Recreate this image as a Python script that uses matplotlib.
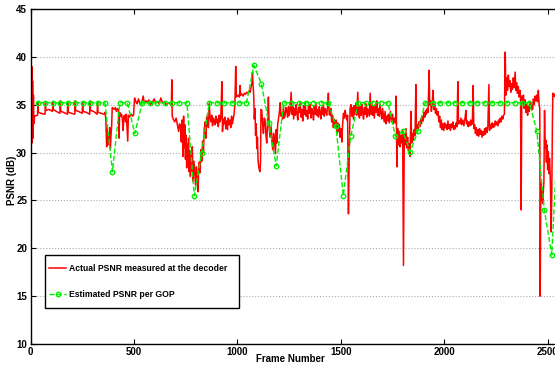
import numpy as np
import matplotlib
matplotlib.use("Agg")
import matplotlib.pyplot as plt
from matplotlib.patches import Rectangle

plt.rcParams['font.family'] = ['Liberation Sans', 'DejaVu Sans']

# actual PSNR at decoder, (frame, dB)
actual_trace = [
    (0, 45.0), (2, 38.0), (4, 32.5), (6, 39.0), (8, 31.0), (10, 37.5), (12, 31.5), (14, 36.0),
    (16, 33.0), (20, 33.8), (34, 33.9), (36, 35.3), (38, 34.2), (50, 34.1), (70, 34.0),
    (72, 35.2), (74, 34.4), (90, 34.5), (106, 34.3), (108, 35.3), (110, 34.5), (125, 34.3),
    (142, 34.1), (144, 35.4), (146, 34.3), (160, 34.2), (178, 34.0), (180, 35.3), (182, 34.2),
    (198, 34.1), (214, 34.0), (216, 35.4), (218, 34.4), (232, 34.3), (250, 34.1), (252, 35.3),
    (254, 34.3), (270, 34.2), (286, 34.0), (288, 35.4), (290, 34.4), (305, 34.3), (322, 34.0),
    (324, 35.3), (326, 34.2), (340, 34.1), (356, 34.0), (360, 34.2), (364, 33.5), (368, 30.6),
    (371, 32.5), (374, 30.8), (377, 32.0), (380, 31.2), (383, 32.6), (386, 30.4), (389, 31.8),
    (392, 32.7), (395, 34.7), (400, 34.6), (405, 34.5), (410, 34.7), (415, 34.3), (420, 34.6),
    (425, 34.5), (428, 31.5), (431, 34.2), (436, 33.8), (440, 34.0), (444, 33.5), (448, 32.3),
    (451, 33.8), (455, 33.9), (459, 33.2), (463, 34.0), (470, 31.2), (473, 33.9), (478, 33.7),
    (483, 33.9), (488, 34.0), (493, 33.8), (498, 33.9), (503, 35.7), (508, 35.4), (512, 35.2),
    (515, 35.1), (522, 35.6), (530, 35.0), (538, 35.3), (545, 35.9), (550, 35.1), (558, 35.4),
    (565, 35.2), (572, 35.5), (580, 35.0), (590, 35.3), (598, 35.6), (605, 35.2), (615, 35.3),
    (622, 35.1), (630, 35.7), (638, 35.2), (648, 35.3), (655, 35.0), (665, 35.2), (675, 35.1),
    (681, 34.9), (683, 37.6), (685, 33.8), (690, 33.5), (697, 33.2), (704, 33.6), (710, 32.9),
    (716, 32.2), (720, 33.0), (725, 32.8), (729, 31.1), (733, 33.4), (737, 29.6), (740, 33.8),
    (743, 30.5), (746, 32.9), (749, 29.3), (752, 31.8), (755, 28.4), (758, 30.9), (761, 29.5),
    (764, 31.5), (767, 28.0), (770, 30.2), (773, 27.5), (776, 29.4), (779, 28.1), (782, 30.6),
    (786, 27.0), (790, 29.1), (794, 27.8), (798, 26.6), (802, 28.5), (806, 27.4), (810, 25.9),
    (813, 28.2), (816, 29.0), (820, 27.9), (824, 30.3), (828, 29.1), (832, 31.2), (836, 30.0),
    (840, 32.5), (844, 33.2), (848, 31.5), (852, 33.8), (856, 33.4), (860, 32.6), (864, 35.1),
    (868, 33.7), (872, 33.2), (876, 33.9), (880, 32.8), (884, 33.6), (888, 33.3), (892, 32.9),
    (896, 33.8), (900, 33.1), (904, 33.5), (908, 32.7), (912, 33.9), (916, 33.2), (920, 33.6),
    (925, 37.4), (928, 32.2), (932, 33.5), (936, 33.0), (940, 33.7), (944, 32.5), (948, 33.3),
    (952, 32.4), (956, 33.6), (960, 32.9), (964, 33.4), (968, 32.6), (972, 33.8), (976, 33.0),
    (980, 33.5), (984, 34.0), (988, 35.0), (992, 39.0), (995, 35.8), (1000, 35.9), (1005, 36.0),
    (1010, 35.8), (1013, 37.0), (1016, 36.0), (1022, 36.1), (1028, 35.9), (1034, 36.2),
    (1040, 36.1), (1046, 36.3), (1052, 36.2), (1058, 36.5), (1062, 36.3), (1066, 36.8),
    (1070, 37.2), (1073, 38.4), (1076, 37.0), (1079, 36.0), (1082, 33.5), (1085, 34.6),
    (1088, 31.8), (1091, 33.0), (1094, 30.4), (1097, 31.6), (1100, 29.2), (1103, 28.6),
    (1106, 28.2), (1109, 28.0), (1112, 29.0), (1114, 34.5), (1118, 34.4), (1122, 33.0),
    (1126, 32.0), (1130, 33.6), (1134, 33.4), (1138, 31.8), (1142, 31.0), (1146, 33.2),
    (1150, 35.8), (1154, 32.5), (1158, 31.6), (1163, 32.7), (1167, 31.2), (1171, 30.3),
    (1175, 32.0), (1178, 31.6), (1184, 29.9), (1188, 32.4), (1191, 31.0), (1195, 33.0),
    (1198, 33.4), (1203, 34.2), (1207, 35.2), (1211, 33.8), (1215, 34.1), (1219, 33.5),
    (1223, 34.8), (1227, 33.6), (1231, 33.9), (1235, 34.7), (1239, 34.4), (1243, 33.7),
    (1247, 34.8), (1251, 33.9), (1255, 34.3), (1260, 36.3), (1264, 34.0), (1268, 34.8),
    (1272, 33.5), (1276, 34.6), (1280, 33.9), (1284, 35.0), (1288, 34.1), (1292, 33.4),
    (1296, 34.7), (1300, 34.2), (1304, 35.1), (1308, 33.7), (1312, 34.5), (1316, 33.3),
    (1320, 34.9), (1324, 34.0), (1328, 35.2), (1332, 33.8), (1336, 34.4), (1340, 33.5),
    (1344, 34.8), (1348, 34.1), (1352, 35.0), (1356, 33.6), (1360, 34.6), (1364, 34.2),
    (1368, 33.4), (1372, 34.9), (1376, 34.0), (1380, 35.1), (1384, 33.9), (1388, 34.5),
    (1392, 33.7), (1396, 34.8), (1400, 34.2), (1404, 33.5), (1408, 34.7), (1412, 34.0),
    (1416, 35.0), (1420, 33.8), (1424, 34.6), (1428, 34.3), (1432, 33.9), (1436, 34.8),
    (1440, 36.2), (1444, 34.0), (1448, 33.9), (1452, 34.6), (1456, 33.2), (1460, 33.9),
    (1464, 32.6), (1468, 33.5), (1473, 32.7), (1477, 33.4), (1481, 32.0), (1485, 33.1),
    (1489, 32.2), (1493, 32.9), (1497, 31.6), (1501, 32.5), (1505, 31.1), (1509, 33.0),
    (1513, 34.1), (1517, 33.6), (1521, 34.4), (1525, 33.8), (1529, 33.4), (1533, 33.9),
    (1537, 23.6), (1541, 30.0), (1545, 34.6), (1549, 35.0), (1553, 33.8), (1557, 34.7),
    (1561, 33.5), (1565, 34.9), (1569, 34.0), (1573, 35.2), (1577, 33.9), (1582, 36.3),
    (1586, 34.2), (1590, 33.6), (1594, 34.8), (1598, 33.9), (1602, 35.0), (1606, 34.1),
    (1610, 33.5), (1614, 34.7), (1618, 34.0), (1622, 35.1), (1626, 33.7), (1630, 34.6),
    (1634, 34.2), (1638, 33.8), (1642, 36.2), (1646, 34.0), (1650, 35.2), (1654, 33.9),
    (1658, 34.8), (1662, 33.6), (1666, 35.0), (1670, 34.2), (1674, 35.4), (1678, 33.9),
    (1682, 34.6), (1686, 33.8), (1690, 35.0), (1694, 34.1), (1698, 33.5), (1702, 34.6),
    (1706, 33.9), (1710, 33.2), (1714, 34.3), (1718, 33.0), (1722, 33.8), (1726, 33.3),
    (1730, 34.0), (1734, 33.1), (1740, 34.3), (1745, 33.2), (1750, 34.0), (1755, 33.0),
    (1760, 33.6), (1765, 33.1), (1768, 35.9), (1771, 28.5), (1775, 32.5), (1779, 30.8),
    (1783, 32.2), (1787, 30.6), (1791, 31.8), (1795, 31.0), (1799, 32.3), (1803, 18.2),
    (1807, 32.0), (1811, 30.8), (1815, 32.5), (1819, 30.5), (1823, 31.6), (1827, 30.2),
    (1831, 30.9), (1835, 29.6), (1839, 34.3), (1843, 31.0), (1847, 32.0), (1851, 31.3),
    (1855, 32.4), (1859, 31.8), (1863, 37.1), (1866, 32.0), (1870, 32.9), (1874, 32.4),
    (1878, 33.2), (1882, 32.7), (1886, 33.5), (1890, 33.0), (1894, 33.8), (1898, 33.3),
    (1902, 34.2), (1906, 33.7), (1910, 34.4), (1914, 34.0), (1918, 34.6), (1922, 34.2),
    (1927, 38.6), (1930, 35.0), (1934, 35.4), (1938, 34.3), (1942, 35.1), (1946, 36.5),
    (1950, 34.5), (1954, 35.0), (1958, 34.1), (1962, 34.6), (1966, 33.9), (1970, 34.3),
    (1974, 33.2), (1978, 33.8), (1982, 32.6), (1986, 33.4), (1990, 32.4), (1994, 33.0),
    (1998, 32.3), (2002, 33.1), (2006, 32.6), (2010, 32.9), (2014, 32.4), (2018, 33.3),
    (2022, 32.5), (2026, 32.9), (2030, 32.3), (2034, 33.0), (2038, 32.6), (2042, 33.2),
    (2046, 32.4), (2050, 32.8), (2054, 32.5), (2058, 33.1), (2062, 32.7), (2066, 37.4),
    (2069, 33.0), (2073, 33.3), (2077, 33.0), (2081, 33.6), (2085, 32.9), (2090, 33.4),
    (2095, 32.8), (2100, 33.5), (2105, 34.4), (2108, 33.0), (2112, 33.3), (2116, 32.7),
    (2120, 33.2), (2124, 32.8), (2128, 33.4), (2132, 32.9), (2136, 33.1), (2140, 37.0),
    (2143, 32.5), (2147, 32.9), (2151, 32.0), (2155, 32.6), (2159, 31.8), (2163, 32.4),
    (2167, 31.7), (2171, 32.5), (2175, 31.9), (2179, 32.3), (2183, 31.6), (2187, 32.2),
    (2191, 31.8), (2195, 32.5), (2199, 31.9), (2203, 32.6), (2207, 32.1), (2211, 32.7),
    (2216, 37.1), (2219, 32.3), (2223, 32.9), (2227, 32.5), (2231, 33.1), (2235, 32.6),
    (2239, 33.0), (2243, 32.7), (2247, 33.3), (2251, 32.9), (2255, 33.2), (2259, 32.8),
    (2263, 33.4), (2267, 33.1), (2271, 33.6), (2275, 33.2), (2279, 33.8), (2283, 33.5),
    (2287, 33.9), (2291, 34.0), (2295, 40.5), (2298, 36.0), (2302, 37.8), (2306, 36.5),
    (2310, 38.1), (2314, 36.9), (2318, 37.5), (2322, 36.3), (2326, 37.2), (2330, 36.6),
    (2334, 37.8), (2338, 36.8), (2343, 38.4), (2346, 36.5), (2350, 37.3), (2354, 36.2),
    (2358, 36.9), (2362, 35.8), (2366, 36.5), (2369, 35.6), (2372, 24.0), (2375, 35.9),
    (2379, 35.2), (2383, 36.0), (2387, 34.6), (2391, 35.5), (2395, 34.2), (2399, 35.0),
    (2403, 33.9), (2407, 34.8), (2411, 34.3), (2415, 35.3), (2419, 34.6), (2423, 35.1),
    (2427, 34.5), (2431, 35.6), (2435, 35.0), (2439, 35.9), (2443, 35.4), (2447, 36.0),
    (2451, 35.3), (2455, 36.5), (2459, 35.0), (2462, 34.6), (2464, 15.0), (2467, 26.8),
    (2470, 25.0), (2473, 26.2), (2476, 24.7), (2479, 25.8), (2482, 27.0), (2485, 34.4),
    (2488, 30.5), (2491, 31.3), (2494, 29.0), (2497, 30.8), (2500, 28.2), (2503, 30.1),
    (2506, 27.8), (2509, 29.4), (2512, 28.0), (2515, 25.0), (2517, 21.7), (2520, 25.5),
    (2523, 33.0), (2525, 36.2), (2528, 35.9), (2532, 36.1), (2536, 35.8), (2540, 36.0),
    (2545, 35.9), (2550, 36.1),
]
actual_frames = [p[0] for p in actual_trace]
actual_psnr = [p[1] for p in actual_trace]

# estimated PSNR, one value per GOP of 36 frames
gop_frames = np.arange(36, 36 * 72, 36)
gop_psnr = [
    35.2, 35.2, 35.2, 35.2, 35.2, 35.2, 35.2, 35.2, 35.2, 35.2,
    28.0, 35.2, 35.2, 32.0, 35.2, 35.2, 35.2, 35.2, 35.2, 35.2,
    35.2, 25.5, 30.0, 35.2, 35.2, 35.2, 35.2, 35.2, 35.2, 39.1,
    37.2, 33.05, 28.6, 35.2, 35.2, 35.2, 35.2, 35.2, 35.2, 35.2,
    32.8, 25.5, 31.7, 35.2, 35.2, 35.2, 35.2, 35.2, 31.7, 32.2,
    30.1, 32.2, 35.2, 35.2, 35.2, 35.2, 35.2, 35.2, 35.2, 35.2,
    35.2, 35.2, 35.2, 35.2, 35.2, 35.2, 35.2, 32.2, 24.0, 19.3,
    35.2,
]

fig = plt.figure(figsize=(5.55, 3.65), dpi=100)
# axes run past the right edge of the picture, like the cropped original
ax = fig.add_axes([0.055, 0.0575, 0.969, 0.918])

ax.plot(actual_frames, actual_psnr, color='#ff0000', lw=1.1,
        label='Actual PSNR measured at the decoder')
ax.plot(gop_frames, gop_psnr, color='#00ee00', ls='--', lw=1.0,
        marker='o', ms=3.2, mfc='none', mec='#00ee00', mew=1.0,
        label='Estimated PSNR per GOP')

ax.set_xlim(0, 2600)
ax.set_ylim(10, 45)
ax.set_xticks(np.arange(0, 2501, 500))
ax.set_yticks(np.arange(10, 46, 5))
ax.yaxis.grid(True, ls=':', color='#aaaaaa', lw=0.8)
ax.tick_params(direction='in', top=True, right=True, length=3.5, labelsize=7, pad=2.5)
for lab in ax.get_xticklabels() + ax.get_yticklabels():
    lab.set_fontweight('bold')
for s in ax.spines.values():
    s.set_linewidth(1.0)

ax.set_xlabel('Frame Number', fontsize=7, fontweight='bold', va='center')
ax.xaxis.set_label_coords(0.483, -0.045)
ax.set_ylabel('PSNR (dB)', fontsize=7, fontweight='bold', va='center')
ax.yaxis.set_label_coords(-0.034, 0.49)

# legend box drawn by hand so its size matches the original
box = Rectangle((0.027, 0.1075), 0.361, 0.158, transform=ax.transAxes,
                facecolor='white', edgecolor='black', lw=1.0, zorder=5)
ax.add_patch(box)
leg = ax.legend(loc='center left', bbox_to_anchor=(0.027, 0.1865), frameon=False,
                prop={'size': 6.2, 'weight': 'bold'}, labelspacing=1.9,
                handlelength=2.0, handletextpad=0.35, borderpad=0.45, borderaxespad=0)
leg.set_zorder(6)

fig.savefig('out.png', dpi=100)
